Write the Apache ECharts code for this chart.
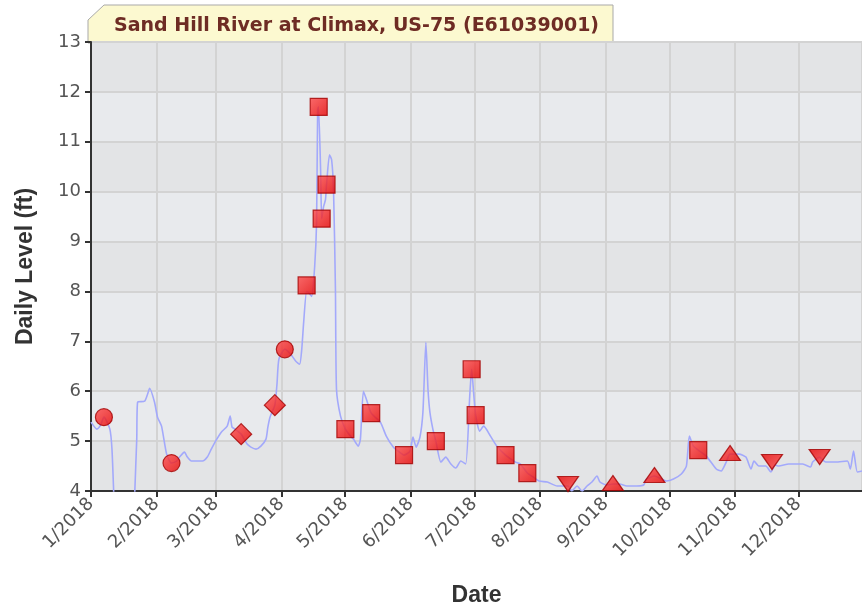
<!DOCTYPE html>
<html>
<head>
<meta charset="utf-8">
<title>Sand Hill River at Climax</title>
<script src="https://cdn.jsdelivr.net/npm/echarts@6/dist/echarts.min.js"></script>
<style>
    html, body { margin: 0; padding: 0; background: #fff; }
    #level { width: 862px; height: 612px; }
</style>
</head>
<body>
<div id="level"></div>
<script>
// days since 1/1/2018 and daily level (ft)
const dayOfYear = [
    0, 2.8, 4.5, 6.1, 8.9, 9.9, 10.8, 12, 20, 20.6, 21.6, 22, 25.3, 26.7, 27.7, 30, 31.4, 33.3, 35.7, 38,
    40.4, 41.8, 44.1, 45.5, 47.4, 52.6, 54.9, 56.8, 59.1, 61.5, 64.3, 65.7, 66.6, 68, 70.9, 73.7, 75.5, 77.9,
    80.2, 82.6, 83.5, 84.5, 86.8, 87.8, 88.7, 91.5, 94.3, 96.7, 98.5, 99.5, 100.4, 101.8, 103, 104.2, 105.6,
    106.5, 107, 107.4, 108.4, 108.9, 109.8, 110.7, 111.2, 112.6, 113.6, 114.5, 115.4, 115.9, 117.8, 120.1,
    122.5, 123.9, 126.2, 127.2, 128.6, 130, 132.3, 136.6, 139.4, 142.7, 145, 147.8, 150.6, 152, 153.5, 155.3,
    156.7, 158.1, 159.1, 160, 161.4, 162.8, 165.2, 167.5, 169.9, 172.2, 174.6, 176.9, 178.8, 179.7, 180.7,
    181.6, 183.5, 185.4, 188.6, 191.9, 195.7, 200.4, 202.7, 206, 208.8, 211.6, 215.4, 220.1, 225.2, 227,
    229.5, 231.8, 234.2, 236.5, 238.9, 240.3, 243.5, 246.4, 249.6, 252.9, 257.6, 260.9, 262.3, 266, 271.7,
    275, 278.7, 281.1, 282.5, 284.4, 286.7, 290.5, 295.2, 297.5, 299.9, 301.7, 306, 309.2, 311.6, 313, 315.3,
    318.6, 321, 322.9, 324.7, 329.4, 336, 339.7, 340.7, 344, 346.8, 351.5, 357.1, 358.5, 360, 361.8, 364
]
const dailyLevel = [
    5.38, 5.24, 5.32, 5.48, 5.24, 4.84, 3.9, 3.0, 3.0, 3.9, 5.04, 5.78, 5.8, 5.94, 6.06, 5.78, 5.48, 5.3, 4.74, 4.56,
    4.6, 4.68, 4.78, 4.68, 4.6, 4.6, 4.68, 4.84, 5.02, 5.18, 5.3, 5.5, 5.28, 5.24, 5.14, 4.94, 4.88, 4.84,
    4.9, 5.04, 5.28, 5.48, 5.72, 6.14, 6.64, 6.84, 6.74, 6.6, 6.54, 6.84, 7.38, 8.0, 7.96, 7.9, 8.5,
    9.38, 11.64, 11.7, 10.44, 9.46, 9.7, 9.84, 10.14, 10.74, 10.64, 10.04, 8.04, 6.04, 5.5, 5.24,
    5.1, 5.04, 4.9, 5.04, 6.0, 5.84, 5.56, 5.38, 5.1, 4.88, 4.8, 4.72, 4.8, 5.08, 4.88, 5.08,
    5.58, 6.98, 6.04, 5.58, 5.24, 5.0, 4.58, 4.68, 4.54, 4.46, 4.6, 4.54, 5.9, 6.44, 5.94,
    5.52, 5.2, 5.3, 5.1, 4.88, 4.72, 4.58, 4.54, 4.36, 4.28, 4.2, 4.18, 4.1, 4.1, 4.0,
    4.1, 4.0, 4.1, 4.18, 4.3, 4.18, 4.12, 4.14, 4.14, 4.1, 4.1, 4.12, 4.24, 4.3, 4.2,
    4.24, 4.34, 4.5, 5.1, 4.9, 4.82, 4.7, 4.44, 4.4, 4.58, 4.74, 4.74, 4.68, 4.44, 4.6, 4.5,
    4.5, 4.38, 4.52, 4.5, 4.54, 4.54, 4.48, 4.58, 4.68, 4.58, 4.58, 4.6, 4.44, 4.8, 4.38, 4.4
]

// field readings, [day, level], one list per marker shape
const circleObs = [[6.1, 5.48], [38, 4.56], [91.5, 6.84]]
const diamondObs = [[70.9, 5.14], [86.8, 5.72]]
const squareObs = [
    [101.8, 8.12], [107.5, 11.7], [108.9, 9.46], [111.2, 10.14], [120.1, 5.24], [132.3, 5.56],
    [147.8, 4.72], [162.8, 5.0], [179.7, 6.44], [181.6, 5.52], [195.7, 4.72], [206, 4.36], [286.7, 4.82]
]
const triUpObs = [[246.4, 4.16], [266, 4.32], [301.7, 4.76]]
const triDownObs = [[225.2, 4.14], [321.5, 4.58], [344, 4.68]]

const yTicks = { min: 4, max: 13, step: 1 }

const t0 = new Date(2018, 0, 1).getTime()
function toTime(d) {
    return t0 + d * 864e5
}

function markerSeries(name, list, symbol, size, rotate) {
    return {
        name: name,
        type: 'scatter',
        symbol: symbol,
        symbolSize: size,
        symbolRotate: rotate || 0,
        z: 5,
        itemStyle: {
            color: new echarts.graphic.LinearGradient(0, 0, 1, 1, [
                { offset: 0, color: '#ff4a4a' },
                { offset: 1, color: '#e60000' }
            ]),
            borderColor: '#a30000',
            borderWidth: 1.2
        },
        data: list.map(p => [toTime(p[0]), p[1]])
    }
}

function echart() {
    let dom = document.getElementById("level")
    let myChart = echarts.init(dom)
    let lineData = dayOfYear.map((d, i) => [toTime(d), dailyLevel[i]])

    let option = {
        animation: false,
        title: {
            text: 'Sand Hill River at Climax, US-75 (E61039001)',
            left: 109,
            top: 12,
            textStyle: {
                fontFamily: 'DejaVu Sans',
                fontSize: 19,
                fontWeight: 'bold',
                color: '#6e2c24'
            }
        },
        graphic: [{
            type: 'polygon',
            z: -1,
            shape: { points: [[88, 43], [88, 20], [104, 5], [613, 5], [613, 43]] },
            style: { fill: '#fcf9d0', stroke: '#a9a9a9', lineWidth: 1 }
        }],
        grid: {
            left: 91,
            top: 42,
            width: 776,
            height: 450
        },
        xAxis: {
            type: 'time',
            min: toTime(0),
            max: toTime(364),
            splitNumber: 12,
            minInterval: 28 * 864e5,
            maxInterval: 31 * 864e5,
            name: 'Date',
            nameLocation: 'middle',
            nameGap: 93,
            nameTextStyle: { fontFamily: 'Liberation Sans', fontSize: 23, fontWeight: 'bold', color: '#333' },
            axisLine: { lineStyle: { color: '#333', width: 2 } },
            axisTick: { length: 6, lineStyle: { color: '#333', width: 2 } },
            axisLabel: {
                rotate: 45,
                margin: 10,
                formatter: '{M}/{yyyy}',
                fontFamily: 'DejaVu Sans',
                fontSize: 18,
                color: '#555'
            },
            splitLine: { show: true, lineStyle: { color: '#d3d3d3', width: 2 } }
        },
        yAxis: {
            type: 'value',
            min: yTicks.min,
            max: yTicks.max,
            interval: yTicks.step,
            name: 'Daily Level (ft)',
            nameLocation: 'middle',
            nameGap: 54,
            nameTextStyle: { fontFamily: 'Liberation Sans', fontSize: 23, fontWeight: 'bold', color: '#333' },
            axisLine: { show: true, lineStyle: { color: '#333', width: 2 } },
            axisTick: { show: true, length: 6, lineStyle: { color: '#333', width: 2 } },
            axisLabel: { margin: 10, fontFamily: 'DejaVu Sans', fontSize: 18, color: '#555' },
            splitLine: { lineStyle: { color: '#d3d3d3', width: 2 } },
            splitArea: { show: true, areaStyle: { color: ['#e3e4e6', '#e8eaed'] } }
        },
        series: [
            {
                name: 'Daily Level',
                type: 'line',
                showSymbol: false,
                smooth: 0.2,
                lineStyle: { color: '#a3a9fb', width: 1.6 },
                data: lineData
            },
            markerSeries('circle', circleObs, 'circle', 17),
            markerSeries('diamond', diamondObs, 'diamond', 21),
            markerSeries('square', squareObs, 'rect', 17),
            markerSeries('up', triUpObs, 'triangle', [21, 15]),
            markerSeries('down', triDownObs, 'triangle', [21, 15], 180)
        ]
    }
    myChart.setOption(option)
}

echart()
</script>
</body>
</html>
